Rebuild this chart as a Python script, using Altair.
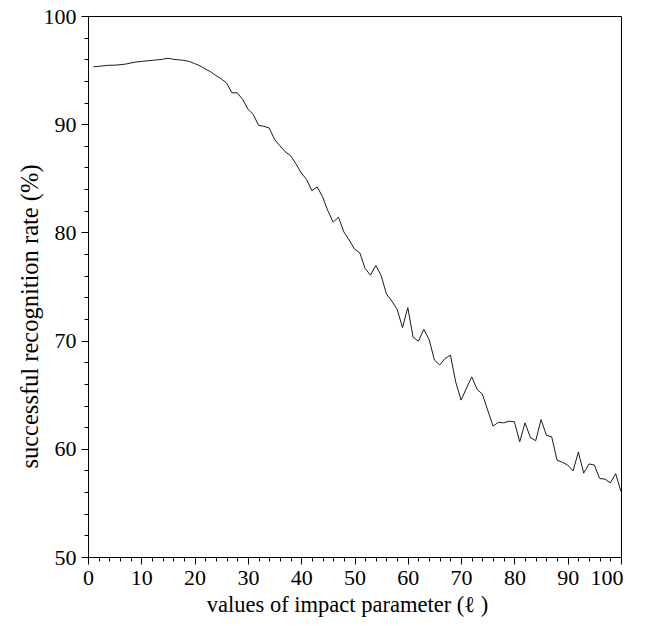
import altair as alt
import pandas as pd

impact = list(range(1, 101))
rate = [
    95.3, 95.35, 95.4, 95.45, 95.45, 95.5, 95.55, 95.65, 95.75, 95.8,
    95.85, 95.9, 95.95, 96.0, 96.1, 96.0, 95.95, 95.9, 95.8, 95.6,
    95.4, 95.1, 94.85, 94.5, 94.2, 93.8, 92.9, 92.9, 92.3, 91.4,
    90.9, 89.9, 89.8, 89.65, 88.6, 88.0, 87.45, 87.1, 86.35, 85.5,
    84.9, 83.85, 84.2, 83.3, 82.0, 80.95, 81.4, 80.05, 79.3, 78.45,
    78.1, 76.65, 76.05, 76.95, 76.0, 74.3, 73.65, 72.9, 71.2, 73.05,
    70.3, 69.95, 71.05, 70.1, 68.2, 67.75, 68.35, 68.65, 66.15, 64.5,
    65.6, 66.65, 65.5, 65.05, 63.55, 62.1, 62.45, 62.4, 62.55, 62.5,
    60.65, 62.4, 61.05, 60.75, 62.7, 61.25, 61.1, 58.95, 58.75, 58.5,
    57.95, 59.7, 57.75, 58.6, 58.5, 57.25, 57.2, 56.85, 57.7, 56.05,
]
x_major = list(range(0, 101, 10))
x_minor = list(range(0, 101, 2))
y_major = list(range(50, 101, 10))
y_minor = list(range(50, 101, 2))

df = pd.DataFrame({"impact": impact, "rate": rate})

FONT = "Liberation Serif"

xs = alt.Scale(domain=[0, 100], nice=False, zero=False)
ys = alt.Scale(domain=[50, 100], nice=False, zero=False)

main = alt.Chart(df).mark_line(color="#1a1a1a", strokeWidth=1).encode(
    x=alt.X("impact:Q", scale=xs, axis=alt.Axis(
        values=x_major, title="values of impact parameter (ℓ )", orient="bottom",
        grid=False, tickSize=7, tickColor="black", domainColor="black",
        labelFont=FONT, labelFontSize=22, labelColor="black", labelPadding=3,
        labelFlush=False,
        labelAlign=alt.expr("datum.value == 100 ? 'right' : 'center'"),
        labelOffset=alt.expr("datum.value == 100 ? 2 : 0"),
        titleFont=FONT, titleFontSize=22.5, titleFontWeight="normal", titleColor="black",
        titleX=259, titleY=54, titleBaseline="alphabetic")),
    y=alt.Y("rate:Q", scale=ys, axis=alt.Axis(
        values=y_major, title="successful recognition rate (%)", orient="left",
        grid=False, tickSize=7, tickColor="black", domainColor="black",
        labelFont=FONT, labelFontSize=22, labelColor="black", labelPadding=5,
        labelFlush=False,
        titleFont=FONT, titleFontSize=24.5, titleFontWeight="normal", titleColor="black",
        titleX=-58, titleY=300, titleBaseline="middle")),
)

minor = alt.Chart(df).mark_line(strokeOpacity=0).encode(
    x=alt.X("impact:Q", scale=xs, axis=alt.Axis(
        values=x_minor, title=None, orient="bottom", labels=False, domain=False,
        grid=False, tickSize=4, tickColor="black")),
    y=alt.Y("rate:Q", scale=ys, axis=alt.Axis(
        values=y_minor, title=None, orient="left", labels=False, domain=False,
        grid=False, tickSize=4, tickColor="black")),
)

chart = alt.layer(main, minor).resolve_axis(x="independent", y="independent").properties(
    width=533, height=541,
    autosize=alt.AutoSizeParams(type="none"),
    padding={"left": 80, "top": 8, "right": 17, "bottom": 60},
).configure_view(stroke="black", strokeWidth=1)

chart.save("out.html", embed_options={"renderer": "svg", "actions": False})
